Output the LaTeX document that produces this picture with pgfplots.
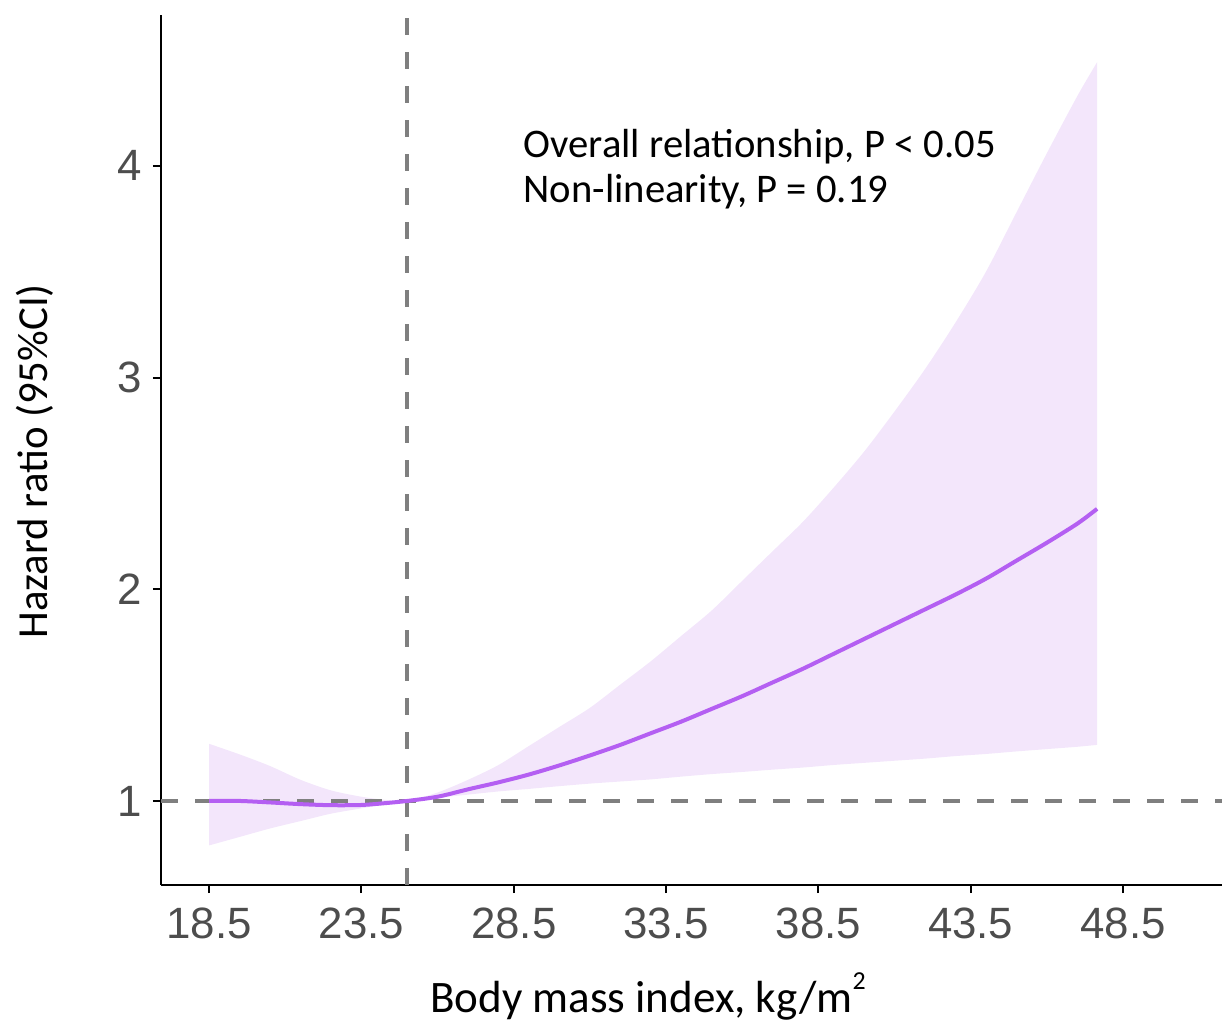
\documentclass[border=0pt]{standalone}
\usepackage{pgfplots}
\pgfplotsset{compat=1.18}
\usepackage{pgfplotstable}
\usepgfplotslibrary{fillbetween}
\usepackage{fontspec}
\setmainfont{Carlito}
\newfontfamily\arialf{Liberation Sans}

\definecolor{bandcol}{HTML}{F3E6FB}
\definecolor{linecol}{HTML}{B45FF2}
\definecolor{refgrey}{HTML}{7F7F7F}
\definecolor{tickgrey}{HTML}{4D4D4D}

% bmi, hazard ratio, lower and upper 95% CI
\pgfplotstableread{
bmi   hr     lo     hi
18.5  1.000  0.790  1.270
19.5  1.000  0.830  1.220
20.5  0.993  0.870  1.165
21.5  0.985  0.905  1.100
22.5  0.980  0.940  1.050
23.5  0.981  0.965  1.020
24.3  0.990  0.985  1.005
25.0  1.000  1.000  1.000
26.0  1.020  1.015  1.040
27.0  1.055  1.030  1.100
28.0  1.088  1.045  1.170
29.0  1.125  1.057  1.260
30.0  1.168  1.070  1.350
31.0  1.215  1.082  1.440
32.0  1.265  1.092  1.550
33.0  1.320  1.102  1.660
34.0  1.375  1.115  1.780
35.0  1.435  1.127  1.900
36.0  1.495  1.137  2.040
37.0  1.560  1.148  2.180
38.0  1.625  1.158  2.320
39.0  1.695  1.170  2.480
40.0  1.765  1.180  2.650
41.0  1.835  1.190  2.840
42.0  1.905  1.200  3.040
43.0  1.975  1.212  3.260
44.0  2.050  1.222  3.500
45.0  2.135  1.234  3.780
46.0  2.220  1.245  4.060
47.0  2.310  1.256  4.330
47.65 2.380  1.265  4.490
}\bmidata

\begin{document}
\begin{tikzpicture}
\begin{axis}[
    at={(0,0)}, anchor=south west,
    scale only axis,
    width=530.5bp, height=435bp,
    xmin=16.92, xmax=51.75,
    ymin=0.603, ymax=4.713,
    axis x line*=bottom, axis y line*=left,
    axis line style={-, line width=1bp, black},
    xtick={18.5,23.5,28.5,33.5,38.5,43.5,48.5},
    xticklabels={18.5,23.5,28.5,33.5,38.5,43.5,48.5},
    ytick={1,2,3,4},
    yticklabels={1,2,3,4},
    tick align=outside,
    major tick length=4bp,
    tick style={line width=1bp, black},
    minor tick num=0,
    ticklabel style={font=\arialf\fontsize{22}{24}\selectfont, text=tickgrey},
    xticklabel style={yshift=-4bp},
    yticklabel style={xshift=-2bp},
    xlabel={Body mass index, kg/m\raisebox{1.1ex}{\fontsize{13}{13}\selectfont 2}},
    ylabel={Hazard ratio (95\%CI)},
    xlabel style={font=\fontsize{22.6}{24}\selectfont,
        at={(axis description cs:0.459,-0.147)}, anchor=base},
    ylabel style={font=\fontsize{21.5}{24}\selectfont,
        at={(axis description cs:-0.107,0.487)}, anchor=base},
    clip=true,
]
\addplot[name path=upper, draw=none, forget plot, smooth] table[x=bmi, y=hi] {\bmidata};
\addplot[name path=lower, draw=none, forget plot, smooth] table[x=bmi, y=lo] {\bmidata};
\addplot[fill=bandcol, draw=none] fill between[of=upper and lower];

\addplot[refgrey, line width=2bp, dash pattern=on 8.5bp off 8.5bp]
    coordinates {(16.92,1) (51.75,1)};
\addplot[refgrey, line width=2bp, dash pattern=on 8.5bp off 8.5bp]
    coordinates {(25,0.603) (25,4.713)};

\addplot[linecol, line width=2bp, smooth] table[x=bmi, y=hr] {\bmidata};

\node[anchor=base west, font=\fontsize{20.4}{22}\selectfont, inner sep=0pt]
    at (axis cs:28.81,4.042) {Overall relationship, P < 0.05};
\node[anchor=base west, font=\fontsize{20.4}{22}\selectfont, inner sep=0pt]
    at (axis cs:28.81,3.825) {Non-linearity, P = 0.19};
\end{axis}
\pgfresetboundingbox
\path[use as bounding box] (-80.5bp,-70.5bp) rectangle (532bp,442.5bp);
\end{tikzpicture}
\end{document}
